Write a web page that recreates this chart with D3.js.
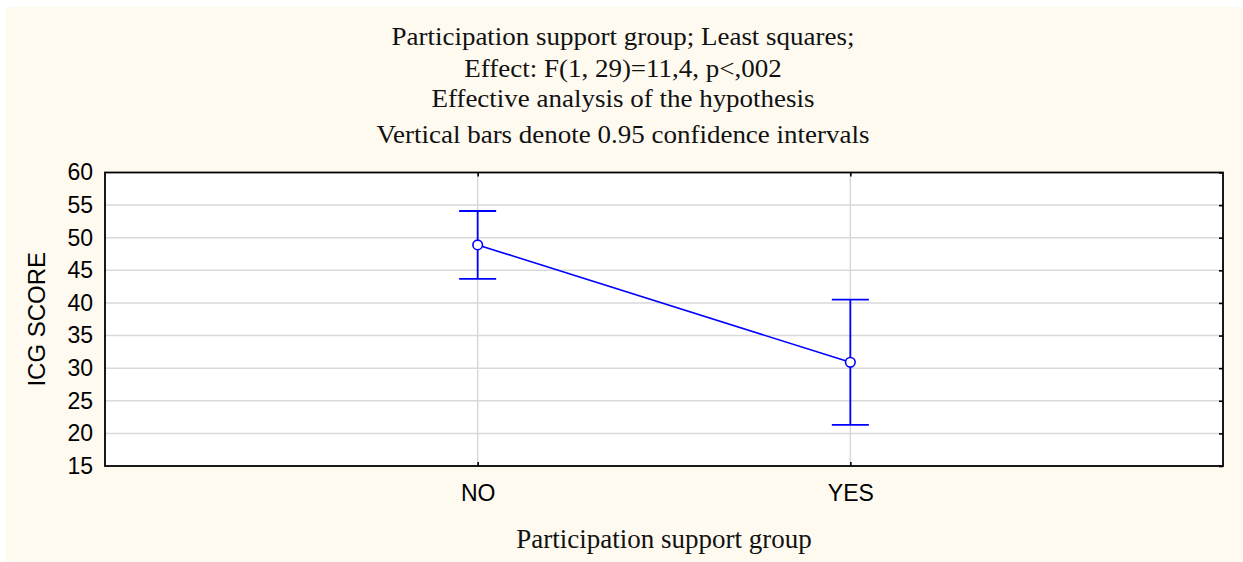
<!DOCTYPE html>
<html>
<head>
<meta charset="utf-8">
<script src="https://cdn.jsdelivr.net/npm/d3@7"></script>
<style>
  html, body { margin: 0; padding: 0; background: #ffffff; }
  svg { display: block; }
</style>
</head>
<body>
<script>
// Least-squares means of the ICG score by support-group participation, with 95% CIs
const groups = ["NO", "YES"];
const means = [48.9, 30.9];
const ciLower = [43.7, 21.3];
const ciUpper = [54.1, 40.5];
const yTicks = [15, 20, 25, 30, 35, 40, 45, 50, 55, 60];
const titleLines = [
  "Participation support group; Least squares;",
  "Effect: F(1, 29)=11,4, p<,002",
  "Effective analysis of the hypothesis",
  "Vertical bars denote 0.95 confidence intervals"
];
const xTitle = "Participation support group";
const yTitle = "ICG SCORE";

const W = 1243, H = 562;
const margin = { top: 172.5, right: 20, bottom: 96, left: 105 };
const plotW = 1223 - margin.left;
const plotH = 466 - margin.top;

const svg = d3.select("body").append("svg")
  .attr("width", W).attr("height", H);

svg.append("rect")
  .attr("x", 6).attr("y", 7)
  .attr("width", W - 6).attr("height", H - 7)
  .attr("fill", "#fefaf0");

// Title block (serif, slightly widened)
const titleY = [45, 76.5, 107, 142.5];
svg.append("g")
  .selectAll("text")
  .data(titleLines)
  .join("text")
  .attr("transform", (d, i) => `translate(623,${titleY[i]}) scale(1.08,1)`)
  .attr("text-anchor", "middle")
  .attr("font-family", "'Liberation Serif', 'Times New Roman', serif")
  .attr("font-size", 25)
  .attr("fill", "#111")
  .text(d => d);

const g = svg.append("g")
  .attr("transform", `translate(${margin.left},${margin.top})`);

const x = d3.scalePoint().domain(groups).range([0, plotW]).padding(1);
const y = d3.scaleLinear().domain([15, 60]).range([plotH, 0]);

g.append("rect")
  .attr("width", plotW).attr("height", plotH)
  .attr("fill", "#ffffff");

// Grid lines
g.append("g")
  .selectAll("line")
  .data(yTicks.filter(t => t > 15 && t < 60))
  .join("line")
  .attr("x1", 0).attr("x2", plotW)
  .attr("y1", d => y(d)).attr("y2", d => y(d))
  .attr("stroke", "#d9d9d9").attr("stroke-width", 1.5);

g.append("g")
  .selectAll("line")
  .data(groups)
  .join("line")
  .attr("x1", d => x(d)).attr("x2", d => x(d))
  .attr("y1", 0).attr("y2", plotH)
  .attr("stroke", "#d9d9d9").attr("stroke-width", 1.5);

// Axes with inward ticks
const tickFont = "'Liberation Sans', Arial, sans-serif";
const yAxis = g.append("g")
  .call(d3.axisLeft(y).tickValues(yTicks).tickSize(0).tickPadding(12));
const yAxisR = g.append("g")
  .attr("transform", `translate(${plotW},0)`)
  .call(d3.axisLeft(y).tickValues(yTicks).tickSize(4).tickFormat(""));
const xAxis = g.append("g")
  .attr("transform", `translate(0,${plotH})`)
  .call(d3.axisTop(x).tickSize(4).tickFormat(""));
const xAxisTop = g.append("g")
  .call(d3.axisBottom(x).tickSize(4).tickFormat(""));
const xLabels = g.append("g")
  .attr("transform", `translate(0,${plotH})`)
  .call(d3.axisBottom(x).tickSize(0).tickPadding(18.5));

[yAxis, yAxisR, xAxis, xAxisTop, xLabels].forEach(a => {
  a.select(".domain").remove();
  a.selectAll(".tick line").attr("stroke", "#000").attr("stroke-width", 1.6);
  a.selectAll("text")
    .attr("font-family", tickFont)
    .attr("font-size", 23)
    .attr("fill", "#000");
});

// Frame
g.append("rect")
  .attr("width", plotW).attr("height", plotH)
  .attr("fill", "none")
  .attr("stroke", "#000").attr("stroke-width", 1.8);

// Axis titles
svg.append("text")
  .attr("x", margin.left + plotW / 2)
  .attr("y", 548)
  .attr("text-anchor", "middle")
  .attr("font-family", "'Liberation Serif', 'Times New Roman', serif")
  .attr("font-size", 27)
  .attr("fill", "#111")
  .text(xTitle);

svg.append("text")
  .attr("transform", `translate(45,${margin.top + plotH / 2}) rotate(-90)`)
  .attr("text-anchor", "middle")
  .attr("font-family", tickFont)
  .attr("font-size", 24)
  .attr("fill", "#000")
  .text(yTitle);

// Means line, error bars and markers
const blue = "#0000ff";
const pts = groups.map((d, i) => ({ g: d, m: means[i], lo: ciLower[i], hi: ciUpper[i] }));

g.append("path")
  .datum(pts)
  .attr("fill", "none")
  .attr("stroke", blue).attr("stroke-width", 1.6)
  .attr("d", d3.line().x(d => x(d.g)).y(d => y(d.m)));

const capHalf = 18.5;
const eb = g.append("g").selectAll("g").data(pts).join("g")
  .attr("stroke", blue).attr("stroke-width", 1.8);
eb.append("line")
  .attr("x1", d => x(d.g)).attr("x2", d => x(d.g))
  .attr("y1", d => y(d.lo)).attr("y2", d => y(d.hi));
eb.append("line")
  .attr("x1", d => x(d.g) - capHalf).attr("x2", d => x(d.g) + capHalf)
  .attr("y1", d => y(d.hi)).attr("y2", d => y(d.hi));
eb.append("line")
  .attr("x1", d => x(d.g) - capHalf).attr("x2", d => x(d.g) + capHalf)
  .attr("y1", d => y(d.lo)).attr("y2", d => y(d.lo));

g.append("g").selectAll("circle").data(pts).join("circle")
  .attr("cx", d => x(d.g)).attr("cy", d => y(d.m))
  .attr("r", 4.8)
  .attr("fill", "#ffffff")
  .attr("stroke", blue).attr("stroke-width", 1.6);
</script>
</body>
</html>
